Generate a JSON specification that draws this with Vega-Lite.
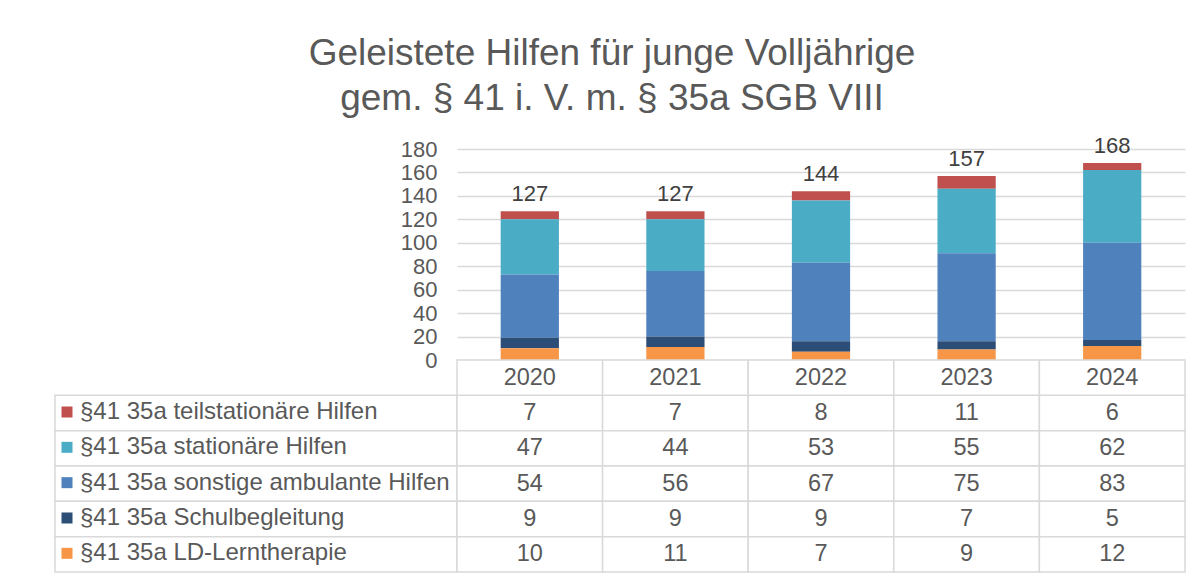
{
  "$schema": "https://vega.github.io/schema/vega-lite/v6.json",
  "background": "white",
  "padding": {"left": 54, "top": 35, "right": 18, "bottom": 4},
  "config": {"font": "Liberation Sans", "view": {"stroke": null}},
  "title": {
    "text": ["Geleistete Hilfen für junge Volljährige", "gem. § 41 i. V. m. § 35a SGB VIII"],
    "fontSize": 37, "lineHeight": 45, "fontWeight": "normal", "color": "#595959",
    "anchor": "middle", "offset": 17, "dx": -8
  },
  "datasets": {
    "d": [
      {"series": "§41 35a teilstationäre Hilfen", "k": 1, "year": "2020", "value": 7},
      {"series": "§41 35a teilstationäre Hilfen", "k": 1, "year": "2021", "value": 7},
      {"series": "§41 35a teilstationäre Hilfen", "k": 1, "year": "2022", "value": 8},
      {"series": "§41 35a teilstationäre Hilfen", "k": 1, "year": "2023", "value": 11},
      {"series": "§41 35a teilstationäre Hilfen", "k": 1, "year": "2024", "value": 6},
      {"series": "§41 35a stationäre Hilfen", "k": 2, "year": "2020", "value": 47},
      {"series": "§41 35a stationäre Hilfen", "k": 2, "year": "2021", "value": 44},
      {"series": "§41 35a stationäre Hilfen", "k": 2, "year": "2022", "value": 53},
      {"series": "§41 35a stationäre Hilfen", "k": 2, "year": "2023", "value": 55},
      {"series": "§41 35a stationäre Hilfen", "k": 2, "year": "2024", "value": 62},
      {"series": "§41 35a sonstige ambulante Hilfen", "k": 3, "year": "2020", "value": 54},
      {"series": "§41 35a sonstige ambulante Hilfen", "k": 3, "year": "2021", "value": 56},
      {"series": "§41 35a sonstige ambulante Hilfen", "k": 3, "year": "2022", "value": 67},
      {"series": "§41 35a sonstige ambulante Hilfen", "k": 3, "year": "2023", "value": 75},
      {"series": "§41 35a sonstige ambulante Hilfen", "k": 3, "year": "2024", "value": 83},
      {"series": "§41 35a Schulbegleitung", "k": 4, "year": "2020", "value": 9},
      {"series": "§41 35a Schulbegleitung", "k": 4, "year": "2021", "value": 9},
      {"series": "§41 35a Schulbegleitung", "k": 4, "year": "2022", "value": 9},
      {"series": "§41 35a Schulbegleitung", "k": 4, "year": "2023", "value": 7},
      {"series": "§41 35a Schulbegleitung", "k": 4, "year": "2024", "value": 5},
      {"series": "§41 35a LD-Lerntherapie", "k": 5, "year": "2020", "value": 10},
      {"series": "§41 35a LD-Lerntherapie", "k": 5, "year": "2021", "value": 11},
      {"series": "§41 35a LD-Lerntherapie", "k": 5, "year": "2022", "value": 7},
      {"series": "§41 35a LD-Lerntherapie", "k": 5, "year": "2023", "value": 9},
      {"series": "§41 35a LD-Lerntherapie", "k": 5, "year": "2024", "value": 12}
    ]
  },
  "columns": 2,
  "bounds": "flush",
  "spacing": 0,
  "resolve": {"legend": {"color": "independent"}},
  "concat": [
    {
      "width": 402, "height": 211,
      "data": {"values": [{}]},
      "mark": {"type": "text", "text": ""},
      "encoding": {}
    },
    {
      "width": 728, "height": 211,
      "data": {"name": "d"},
      "encoding": {
        "x": {"field": "year", "type": "nominal", "axis": null, "scale": {"paddingInner": 0.6, "paddingOuter": 0.3}}
      },
      "layer": [
        {
          "mark": {"type": "bar"},
          "encoding": {
            "y": {
              "field": "value", "type": "quantitative", "stack": "zero",
              "scale": {"domain": [0, 180]},
              "axis": {
                "title": null, "values": [0, 20, 40, 60, 80, 100, 120, 140, 160, 180],
                "labelFontSize": 22, "labelColor": "#595959", "ticks": false, "domain": false,
                "gridColor": "#d9d9d9", "gridWidth": 1.5, "labelPadding": 20, "labelOverlap": false
              }
            },
            "color": {
              "field": "series", "type": "nominal",
              "scale": {
                "domain": ["§41 35a teilstationäre Hilfen", "§41 35a stationäre Hilfen", "§41 35a sonstige ambulante Hilfen", "§41 35a Schulbegleitung", "§41 35a LD-Lerntherapie"],
                "range": ["#C0504D", "#4BACC6", "#4F81BD", "#2C4D75", "#F79646"]
              },
              "legend": null
            },
            "order": {"field": "k", "sort": "descending"}
          }
        },
        {
          "transform": [{"aggregate": [{"op": "sum", "field": "value", "as": "total"}], "groupby": ["year"]}],
          "mark": {"type": "text", "fontSize": 22, "color": "#404040", "baseline": "alphabetic", "dy": -10},
          "encoding": {
            "y": {
              "field": "total", "type": "quantitative",
              "axis": {
                "title": null, "values": [0, 20, 40, 60, 80, 100, 120, 140, 160, 180],
                "labelFontSize": 22, "labelColor": "#595959", "ticks": false, "domain": false,
                "gridColor": "#d9d9d9", "gridWidth": 1.5, "labelPadding": 20, "labelOverlap": false
              }
            },
            "text": {"field": "total", "type": "quantitative"}
          }
        }
      ]
    },
    {
      "width": 402, "height": 212,
      "data": {"name": "d"},
      "transform": [{"aggregate": [{"op": "count", "as": "n"}], "groupby": ["series"]}],
      "layer": [
        {
          "mark": {"type": "rect", "fill": "white", "stroke": "#d9d9d9", "strokeWidth": 1.5},
          "encoding": {
            "y": {
              "field": "series", "type": "nominal", "axis": null,
              "scale": {"domain": [" ", "§41 35a teilstationäre Hilfen", "§41 35a stationäre Hilfen", "§41 35a sonstige ambulante Hilfen", "§41 35a Schulbegleitung", "§41 35a LD-Lerntherapie"], "paddingInner": 0, "paddingOuter": 0}
            }
          }
        },
        {
          "mark": {"type": "square", "opacity": 0},
          "encoding": {
            "y": {"field": "series", "type": "nominal"},
            "color": {
              "field": "series", "type": "nominal",
              "legend": {
                "orient": "bottom-left", "offset": 6, "padding": 0, "title": null,
                "symbolType": "square", "symbolSize": 121, "symbolStrokeWidth": 0, "symbolOffset": -6,
                "labelFontSize": 24, "labelColor": "#595959", "labelOffset": 1,
                "rowPadding": 11.33, "labelLimit": 400,
                "encode": {"symbols": {"update": {"opacity": {"value": 1}}}}
              }
            }
          }
        }
      ]
    },
    {
      "width": 728, "height": 212,
      "data": {"name": "d"},
      "layer": [
        {
          "mark": {"type": "rect", "fill": "white", "stroke": "#d9d9d9", "strokeWidth": 1.5},
          "encoding": {
            "x": {"field": "year", "type": "nominal", "axis": null, "scale": {"paddingInner": 0, "paddingOuter": 0}},
            "y": {
              "field": "series", "type": "nominal", "axis": null,
              "scale": {"domain": [" ", "§41 35a teilstationäre Hilfen", "§41 35a stationäre Hilfen", "§41 35a sonstige ambulante Hilfen", "§41 35a Schulbegleitung", "§41 35a LD-Lerntherapie"], "paddingInner": 0, "paddingOuter": 0}
            }
          }
        },
        {
          "mark": {"type": "text", "fontSize": 23.5, "color": "#595959"},
          "encoding": {
            "x": {"field": "year", "type": "nominal"},
            "y": {"field": "series", "type": "nominal"},
            "text": {"field": "value", "type": "quantitative"}
          }
        },
        {
          "transform": [{"aggregate": [{"op": "count", "as": "n"}], "groupby": ["year"]}],
          "mark": {"type": "rect", "fill": "white", "stroke": "#d9d9d9", "strokeWidth": 1.5},
          "encoding": {
            "x": {"field": "year", "type": "nominal"},
            "y": {"datum": " ", "type": "nominal"}
          }
        },
        {
          "transform": [{"aggregate": [{"op": "count", "as": "n"}], "groupby": ["year"]}],
          "mark": {"type": "text", "fontSize": 23.5, "color": "#595959"},
          "encoding": {
            "x": {"field": "year", "type": "nominal"},
            "y": {"datum": " ", "type": "nominal"},
            "text": {"field": "year", "type": "nominal"}
          }
        }
      ]
    }
  ]
}
